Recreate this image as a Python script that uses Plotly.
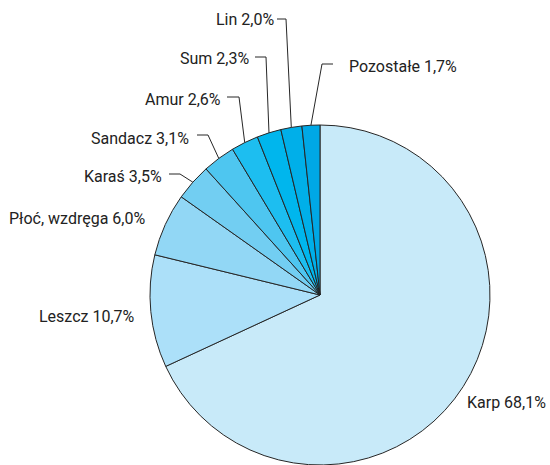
import math
import plotly.graph_objects as go

# ---- data ----
categories = ["Karp", "Leszcz", "Płoć, wzdręga", "Karaś", "Sandacz", "Amur", "Sum", "Lin", "Pozostałe"]
values = [68.1, 10.7, 6.0, 3.5, 3.1, 2.6, 2.3, 2.0, 1.7]
value_labels = ["68,1%", "10,7%", "6,0%", "3,5%", "3,1%", "2,6%", "2,3%", "2,0%", "1,7%"]
colors = ["#c8eaf9", "#ace0f9", "#92d7f5", "#72cef2", "#4ec6f0",
          "#1dbef0", "#00b6ed", "#00afe9", "#00a8e6"]

W, H = 550, 465
cx, cy, R = 320, 295, 170  # pie centre / radius in pixels

def px(x):
    return x / W

def py(y):
    return (H - y) / H

fig = go.Figure(go.Pie(
    labels=categories,
    values=values,
    sort=False,
    direction="clockwise",
    rotation=0,
    textinfo="none",
    hoverinfo="skip",
    marker=dict(colors=colors, line=dict(color="#262626", width=1)),
    domain=dict(x=[px(cx - R), px(cx + R)], y=[py(cy + R), py(cy - R)]),
    showlegend=False,
))

# label placement (pixel layout): (anchor x, y, xanchor, (elbow-start x, elbow x, elbow y))
label_layout = {
    "Karp": (548, 402, "right", None),
    "Leszcz": (137, 317, "right", None),
    "Płoć, wzdręga": (147, 218, "right", None),
    "Karaś": (164, 176, "right", (169, 180, 174)),
    "Sandacz": (191, 138, "right", (197, 208, 135)),
    "Amur": (223, 99, "right", (227, 239, 97)),
    "Sum": (251, 59, "right", (255, 266, 57)),
    "Lin": (276, 20, "right", (277, 286, 19)),
    "Pozostałe": (347, 66, "left", (333, 322, 64)),
}

total = sum(values)
cum = 0.0
font = dict(family="Roboto, Liberation Sans, Arial, sans-serif", size=16, color="#222222")
for name, v, vl in zip(categories, values, value_labels):
    mid = (cum + v / 2) / total * 2 * math.pi
    cum += v
    ax, ay, xa, leader = label_layout[name]
    fig.add_annotation(x=px(ax), y=py(ay), xref="paper", yref="paper",
                       text=f"{name} {vl}", showarrow=False, xanchor=xa,
                       yanchor="middle", font=font)
    if leader:
        sx, ex, ey = leader
        tx = cx + R * math.sin(mid)
        ty = cy - R * math.cos(mid)
        fig.add_shape(type="path", xref="paper", yref="paper",
                      path=f"M {px(sx)},{py(ey)} L {px(ex)},{py(ey)} L {px(tx)},{py(ty)}",
                      line=dict(color="#262626", width=1))

fig.update_layout(
    width=W, height=H,
    margin=dict(l=0, r=0, t=0, b=0),
    paper_bgcolor="white",
    plot_bgcolor="white",
)

fig.write_html("out.html", config={"displayModeBar": False},
               post_script="document.body.style.margin='0';")
